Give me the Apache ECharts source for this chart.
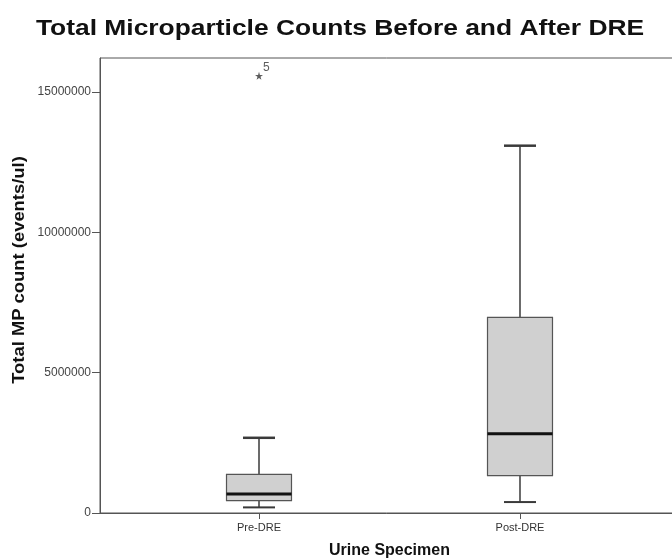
<!DOCTYPE html>
<html>
<head>
<meta charset="utf-8">
<script src="https://cdn.jsdelivr.net/npm/echarts@6/dist/echarts.min.js"></script>
<style>
html,body{margin:0;padding:0;background:#fff;}
#main{width:672px;height:560px;}
</style>
</head>
<body>
<div id="main"></div>
<script>
// Data
var categories = ['Pre-DRE', 'Post-DRE'];
// [lower whisker, Q1, median, Q3, upper whisker]
var boxValues = [
  [200000, 440000, 680000, 1380000, 2680000],
  [390000, 1330000, 2820000, 6970000, 13090000]
];
// [category index, value, case label]
var outliers = [
  [0, 15580000, '5']
];
var yTicks = [0, 5000000, 10000000, 15000000];

var boxData = boxValues.map(function (v, i) { return [i + 1].concat(v); });
var outlierData = outliers.map(function (o) { return { value: [o[0] + 1, o[1]], label: o[2] }; });

var chart = echarts.init(document.getElementById('main'), null, { renderer: 'canvas' });
var FONT = '"Liberation Sans", Arial, sans-serif';

var option = {
  backgroundColor: '#fff',
  animation: false,
  graphic: [
    {
      type: 'text', x: 340, y: 29, scaleX: 1.2,
      style: { text: 'Total Microparticle Counts Before and After DRE', fill: '#111',
        font: 'bold 22px ' + FONT, textAlign: 'center', textVerticalAlign: 'middle' }
    },
    {
      type: 'text', x: 20, y: 270, rotation: Math.PI / 2, scaleX: 1.15,
      style: { text: 'Total MP count (events/ul)', fill: '#111',
        font: 'bold 16px ' + FONT, textAlign: 'center', textVerticalAlign: 'middle' }
    }
  ],
  grid: { left: 100, top: 58, width: 579, height: 455, outerBoundsMode: 'none', containLabel: false, show: true, borderColor: '#555', borderWidth: 1, backgroundColor: 'transparent' },
  xAxis: {
    type: 'value',
    min: 0.3908,
    max: 2.6092,
    name: 'Urine Specimen',
    nameLocation: 'middle',
    nameGap: 30,
    nameTextStyle: { fontFamily: FONT, fontSize: 16, fontWeight: 'bold', color: '#111' },
    splitLine: { show: false },
    axisLine: { show: true, lineStyle: { color: '#555', width: 1 } },
    axisTick: { show: true, length: 6, inside: false, customValues: [1, 2], lineStyle: { color: '#555' } },
    axisLabel: {
      customValues: [1, 2],
      fontFamily: FONT, fontSize: 11, color: '#333', margin: 9,
      formatter: function (v) { return categories[Math.round(v) - 1] || ''; }
    }
  },
  yAxis: {
    type: 'value',
    min: 0,
    max: 16215000,
    splitLine: { show: false },
    axisLine: { show: true, lineStyle: { color: '#555', width: 1 } },
    axisTick: { show: true, length: 8, customValues: yTicks, lineStyle: { color: '#555' } },
    axisLabel: {
      customValues: yTicks, fontFamily: FONT, fontSize: 12, color: '#444', margin: 9,
      formatter: function (v) { return String(v); }
    }
  },
  series: [
    {
      type: 'custom',
      data: boxData,
      encode: { x: 0, y: [1, 2, 3, 4, 5] },
      renderItem: function (params, api) {
        var x = api.value(0);
        var halfBox = api.size([0.1245, 0])[0];
        var halfCap = api.size([0.0613, 0])[0];
        var pMin = api.coord([x, api.value(1)]);
        var pQ1 = api.coord([x, api.value(2)]);
        var pMed = api.coord([x, api.value(3)]);
        var pQ3 = api.coord([x, api.value(4)]);
        var pMax = api.coord([x, api.value(5)]);
        var cx = pMed[0];
        var stroke = '#3a3a3a';
        return {
          type: 'group',
          children: [
            { type: 'line', shape: { x1: cx, y1: pMax[1], x2: cx, y2: pQ3[1] }, style: { stroke: stroke, lineWidth: 1.5 } },
            { type: 'line', shape: { x1: cx, y1: pQ1[1], x2: cx, y2: pMin[1] }, style: { stroke: stroke, lineWidth: 1.5 } },
            { type: 'line', shape: { x1: cx - halfCap, y1: pMax[1], x2: cx + halfCap, y2: pMax[1] }, style: { stroke: stroke, lineWidth: 2.5 } },
            { type: 'line', shape: { x1: cx - halfCap, y1: pMin[1], x2: cx + halfCap, y2: pMin[1] }, style: { stroke: stroke, lineWidth: 2 } },
            { type: 'rect', shape: { x: cx - halfBox, y: pQ3[1], width: halfBox * 2, height: pQ1[1] - pQ3[1] }, style: { fill: '#d0d0d0', stroke: '#555', lineWidth: 1.2 } },
            { type: 'line', shape: { x1: cx - halfBox, y1: pMed[1], x2: cx + halfBox, y2: pMed[1] }, style: { stroke: '#111', lineWidth: 3 } }
          ]
        };
      }
    },
    {
      type: 'scatter',
      data: outlierData,
      symbol: 'path://M50,0 L61,35 L98,35 L68,57 L79,91 L50,70 L21,91 L32,57 L2,35 L39,35 Z',
      symbolSize: 8,
      itemStyle: { color: '#333' },
      label: {
        show: true,
        position: [8, -10],
        formatter: function (p) { return p.data.label; },
        fontFamily: FONT, fontSize: 12, color: '#333'
      }
    }
  ]
};
chart.setOption(option);
</script>
</body>
</html>
